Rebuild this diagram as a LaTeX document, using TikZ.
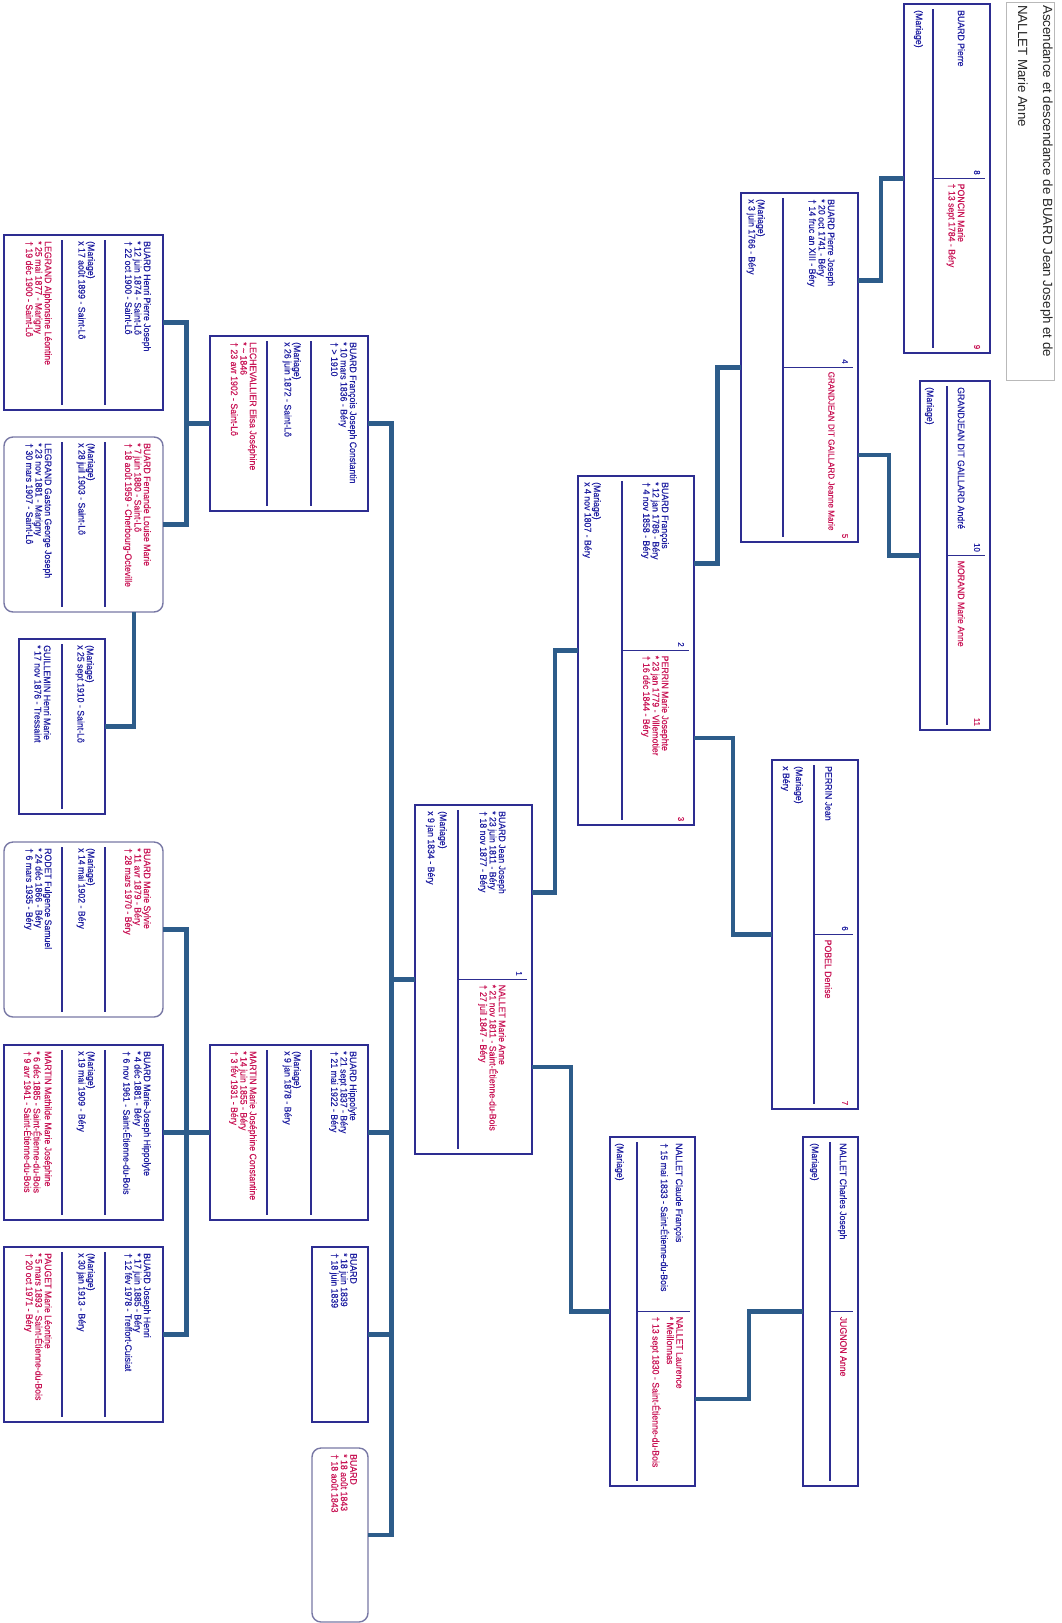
\documentclass[tikz,border=0pt]{standalone}
\usepackage{fontspec}
\setmainfont{Liberation Sans}
\newfontfamily\chartfont[FakeStretch=0.92, FakeBold=0.4]{Liberation Sans}
\usetikzlibrary{calc}

\definecolor{framecol}{RGB}{45,45,145}
\definecolor{roundcol}{RGB}{120,120,165}
\definecolor{malecol}{RGB}{30,30,160}
\definecolor{femcol}{RGB}{200,20,85}
\definecolor{linkcol}{RGB}{45,92,138}
\definecolor{titlecol}{RGB}{185,185,185}

\begin{document}
\begin{tikzpicture}[x=1pt, y=-1pt,
    sqbox/.style={rectangle, draw=framecol, line width=1.4pt, anchor=north west, inner sep=0pt, outer sep=0pt},
    ancbox/.style={sqbox, minimum height=349pt},
    descbox/.style={sqbox, minimum height=175pt},
    descrnd/.style={descbox, draw=roundcol, rounded corners=9pt},
    divline/.style={draw=framecol, line width=1.4pt},
    txt/.style={rotate=-90, anchor=north west, align=left, inner sep=0pt, font=\chartfont\fontsize{9.5}{9.4}\selectfont},
    he/.style={txt, text=malecol},
    she/.style={txt, text=femcol},
    num/.style={rotate=-90, inner sep=0pt, font=\chartfont\fontsize{8.5}{8.5}\selectfont},
    link/.style={draw=linkcol, line width=4.5pt}
]
    \useasboundingbox (0,0) rectangle (1061,1623);

    % title
    \node[draw=titlecol, line width=1pt, anchor=north west, inner sep=0pt, minimum width=48pt, minimum height=378pt] (title) at (1006,2) {};
    \node[txt, text=black!85, font=\fontsize{13.3}{25}\selectfont] (titletxt) at ($(title.north east)+(-2,3)$) {Ascendance et descendance de BUARD Jean Joseph et de\\NALLET Marie Anne};

    % ancestors
    \node[ancbox, minimum width=86pt] (A) at (904,4) {};
    \draw[divline] ($(A.north west)+(29,5)$) -- ($(A.south west)+(29,-5)$);
    \draw[divline] ($(A.west)+(29,0)$) -- ($(A.east)+(-5,0)$);
    \node[he] (Ah) at ($(A.north east)+(-25,6)$) {BUARD Pierre};
    \node[she] (Aw) at ($(A.east)+(-25,5)$) {PONCIN Marie\\† 13 sept 1784 - Béry};
    \node[he] (Am) at ($(A.north west)+(19,6)$) {(Mariage)};
    \node[num, text=malecol] (A8) at ($(A.east)+(-13,-6)$) {8};
    \node[num, text=femcol] (A9) at ($(A.south east)+(-13,-6)$) {9};

    \node[ancbox, minimum width=117pt] (B) at (741,193) {};
    \draw[divline] ($(B.north west)+(42,5)$) -- ($(B.south west)+(42,-5)$);
    \draw[divline] ($(B.west)+(42,0)$) -- ($(B.east)+(-5,0)$);
    \node[he] (Bhx) at ($(B.north east)+(-23,6)$) {BUARD Pierre Joseph\\* 20 oct 1741 - Béry\\† 14 fruc an XIII - Béry};
    \node[she, font=\chartfont\fontsize{8.8}{9.4}\selectfont] (Bwx) at ($(B.east)+(-23,4)$) {GRANDJEAN DIT GAILLARD Jeanne Marie};
    \node[he] (Bm) at ($(B.north west)+(24,6)$) {(Mariage)\\x 3 juin 1766 - Béry};
    \node[num, text=malecol] (B4) at ($(B.east)+(-13,-6)$) {4};
    \node[num, text=femcol] (B5) at ($(B.south east)+(-13,-6)$) {5};

    \node[ancbox, minimum width=70pt] (C) at (920,381) {};
    \draw[divline] ($(C.north west)+(27,5)$) -- ($(C.south west)+(27,-5)$);
    \draw[divline] ($(C.west)+(27,0)$) -- ($(C.east)+(-5,0)$);
    \node[he] (Ch) at ($(C.north east)+(-25,6)$) {GRANDJEAN DIT GAILLARD André};
    \node[she] (Cw) at ($(C.east)+(-25,5)$) {MORAND Marie Anne};
    \node[he] (Cm) at ($(C.north west)+(14,6)$) {(Mariage)};
    \node[num, text=malecol] (C10) at ($(C.east)+(-13,-8)$) {10};
    \node[num, text=femcol] (C11) at ($(C.south east)+(-13,-8)$) {11};

    \node[ancbox, minimum width=116pt] (D) at (578,476) {};
    \draw[divline] ($(D.north west)+(44,5)$) -- ($(D.south west)+(44,-5)$);
    \draw[divline] ($(D.west)+(44,0)$) -- ($(D.east)+(-5,0)$);
    \node[he] (Dhx) at ($(D.north east)+(-25,6)$) {BUARD François\\* 12 jan 1786 - Béry\\† 4 nov 1858 - Béry};
    \node[she] (Dwx) at ($(D.east)+(-25,5)$) {PERRIN Marie Josephte\\* 23 jan 1779 - Villemotier\\† 16 déc 1844 - Béry};
    \node[he] (Dm) at ($(D.north west)+(23,6)$) {(Mariage)\\x 4 nov 1807 - Béry};
    \node[num, text=malecol] (D2) at ($(D.east)+(-13,-6)$) {2};
    \node[num, text=femcol] (D3) at ($(D.south east)+(-13,-6)$) {3};

    \node[ancbox, minimum width=86pt] (E) at (772,760) {};
    \draw[divline] ($(E.north west)+(42,5)$) -- ($(E.south west)+(42,-5)$);
    \draw[divline] ($(E.west)+(42,0)$) -- ($(E.east)+(-5,0)$);
    \node[he] (Ehx) at ($(E.north east)+(-26,6)$) {PERRIN Jean};
    \node[she] (Ewx) at ($(E.east)+(-26,5)$) {POBEL Denise};
    \node[he, font=\chartfont\fontsize{9.5}{13}\selectfont] (Em) at ($(E.north west)+(31,6)$) {(Mariage)\\x Béry};
    \node[num, text=malecol] (E6) at ($(E.east)+(-13,-6)$) {6};
    \node[num, text=femcol] (E7) at ($(E.south east)+(-13,-6)$) {7};

    \node[ancbox, minimum width=117pt] (F) at (415,805) {};
    \draw[divline] ($(F.north west)+(43,5)$) -- ($(F.south west)+(43,-5)$);
    \draw[divline] ($(F.west)+(43,0)$) -- ($(F.east)+(-5,0)$);
    \node[he] (Fhx) at ($(F.north east)+(-26,6)$) {BUARD Jean Joseph\\* 23 juin 1811 - Béry\\† 18 nov 1877 - Béry};
    \node[she] (Fwx) at ($(F.east)+(-26,5)$) {NALLET Marie Anne\\* 21 nov 1811 - Saint-Étienne-du-Bois\\† 27 juil 1847 - Béry};
    \node[he, font=\chartfont\fontsize{9.5}{12}\selectfont] (Fm) at ($(F.north west)+(32,6)$) {(Mariage)\\x 9 jan 1834 - Béry};
    \node[num, text=malecol] (F1) at ($(F.east)+(-13,-6)$) {1};

    \node[ancbox, minimum width=85pt] (G) at (610,1137) {};
    \draw[divline] ($(G.north west)+(27,5)$) -- ($(G.south west)+(27,-5)$);
    \draw[divline] ($(G.west)+(27,0)$) -- ($(G.east)+(-5,0)$);
    \node[he, font=\chartfont\fontsize{9.5}{15}\selectfont] (Ghx) at ($(G.north east)+(-12,6)$) {NALLET Claude François\\† 15 mai 1833 - Saint-Étienne-du-Bois};
    \node[she] (Gwx) at ($(G.east)+(-12,5)$) {NALLET Laurence\\* Meillonnas\\[5pt]† 13 sept 1830 - Saint-Étienne-du-Bois};
    \node[he] (Gm) at ($(G.north west)+(14,6)$) {(Mariage)};

    \node[ancbox, minimum width=55pt] (H) at (803,1137) {};
    \draw[divline] ($(H.north west)+(27,5)$) -- ($(H.south west)+(27,-5)$);
    \draw[divline] ($(H.west)+(27,0)$) -- ($(H.east)+(-5,0)$);
    \node[he] (Hhx) at ($(H.north east)+(-11,6)$) {NALLET Charles Joseph};
    \node[she] (Hwx) at ($(H.east)+(-11,5)$) {JUGNON Anne};
    \node[he] (Hm) at ($(H.north west)+(16,6)$) {(Mariage)};

    % children
    \node[descbox, minimum width=158pt] (I) at (210,336) {};
    \draw[divline] ($(I.north west)+(101,5)$) -- ($(I.south west)+(101,-5)$);
    \draw[divline] ($(I.north west)+(57,5)$) -- ($(I.south west)+(57,-5)$);
    \node[he] (Ip) at ($(I.north east)+(-11,6)$) {BUARD François Joseph Constantin\\* 10 mars 1836 - Béry\\† > 1910};
    \node[he] (Im) at ($(I.north west)+(91,6)$) {(Mariage)\\x 26 juin 1872 - Saint-Lô};
    \node[she] (Is) at ($(I.north west)+(47,6)$) {LECHEVALLIER Elisa Joséphine\\* \textasciitilde{} 1846\\† 23 avr 1902 - Saint-Lô};

    \node[descbox, minimum width=158pt] (J) at (210,1045) {};
    \draw[divline] ($(J.north west)+(101,5)$) -- ($(J.south west)+(101,-5)$);
    \draw[divline] ($(J.north west)+(57,5)$) -- ($(J.south west)+(57,-5)$);
    \node[he] (Jp) at ($(J.north east)+(-11,6)$) {BUARD Hippolyte\\* 21 sept 1837 - Béry\\† 21 mai 1922 - Béry};
    \node[he] (Jm) at ($(J.north west)+(91,6)$) {(Mariage)\\x 9 jan 1878 - Béry};
    \node[she] (Js) at ($(J.north west)+(47,6)$) {MARTIN Marie Joséphine Constantine\\* 14 juin 1855 - Béry\\† 3 fév 1931 - Béry};

    \node[descbox, minimum width=56pt] (K) at (312,1247) {};
    \node[he] (Kp) at ($(K.north east)+(-11,6)$) {BUARD\\* 18 juin 1839\\† 18 juin 1839};

    \node[descrnd, minimum width=56pt, minimum height=174pt] (L) at (312,1448) {};
    \node[she] (Lp) at ($(L.north east)+(-11,6)$) {BUARD\\* 18 août 1843\\† 18 août 1843};

    % grandchildren
    \node[descbox, minimum width=159pt] (M) at (4,235) {};
    \draw[divline] ($(M.north west)+(101,5)$) -- ($(M.south west)+(101,-5)$);
    \draw[divline] ($(M.north west)+(58,5)$) -- ($(M.south west)+(58,-5)$);
    \node[he] (Mp) at ($(M.north east)+(-12,6)$) {BUARD Henri Pierre Joseph\\* 12 juin 1874 - Saint-Lô\\† 22 oct 1900 - Saint-Lô};
    \node[he] (Mm) at ($(M.north west)+(91,6)$) {(Mariage)\\x 17 août 1899 - Saint-Lô};
    \node[she] (Ms) at ($(M.north west)+(48,6)$) {LEGRAND Alphonsine Léontine\\* 25 mai 1877 - Marigny\\† 19 déc 1900 - Saint-Lô};

    \node[descrnd, minimum width=159pt] (N) at (4,437) {};
    \draw[divline] ($(N.north west)+(101,5)$) -- ($(N.south west)+(101,-5)$);
    \draw[divline] ($(N.north west)+(58,5)$) -- ($(N.south west)+(58,-5)$);
    \node[she] (Np) at ($(N.north east)+(-12,6)$) {BUARD Fernande Louise Marie\\* 7 juin 1880 - Saint-Lô\\† 18 août 1959 - Cherbourg-Octeville};
    \node[he] (Nm) at ($(N.north west)+(91,6)$) {(Mariage)\\x 28 juil 1903 - Saint-Lô};
    \node[he] (Ns) at ($(N.north west)+(48,6)$) {LEGRAND Gaston George Joseph\\* 23 nov 1881 - Marigny\\† 30 mars 1907 - Saint-Lô};

    \node[descbox, minimum width=86pt] (O) at (19,639) {};
    \draw[divline] ($(O.north west)+(43,5)$) -- ($(O.south west)+(43,-5)$);
    \node[he] (Om) at ($(O.north east)+(-11,6)$) {(Mariage)\\x 25 sept 1910 - Saint-Lô};
    \node[he] (Os) at ($(O.north west)+(32,6)$) {GUILLEMIN Henri Marie\\* 17 nov 1876 - Tressaint};

    \node[descrnd, minimum width=159pt] (P) at (4,842) {};
    \draw[divline] ($(P.north west)+(101,5)$) -- ($(P.south west)+(101,-5)$);
    \draw[divline] ($(P.north west)+(58,5)$) -- ($(P.south west)+(58,-5)$);
    \node[she] (Pp) at ($(P.north east)+(-12,6)$) {BUARD Marie Sylvie\\* 11 avr 1879 - Béry\\† 28 mars 1970 - Béry};
    \node[he] (Pm) at ($(P.north west)+(91,6)$) {(Mariage)\\x 14 mai 1902 - Béry};
    \node[he] (Ps) at ($(P.north west)+(48,6)$) {RODET Fulgence Samuel\\* 24 déc 1866 - Béry\\† 6 mars 1935 - Béry};

    \node[descbox, minimum width=159pt] (Q) at (4,1045) {};
    \draw[divline] ($(Q.north west)+(101,5)$) -- ($(Q.south west)+(101,-5)$);
    \draw[divline] ($(Q.north west)+(58,5)$) -- ($(Q.south west)+(58,-5)$);
    \node[he] (Qp) at ($(Q.north east)+(-12,6)$) {BUARD Marie-Joseph Hippolyte\\* 4 déc 1881 - Béry\\† 6 nov 1961 - Saint-Étienne-du-Bois};
    \node[he] (Qm) at ($(Q.north west)+(91,6)$) {(Mariage)\\x 19 mai 1909 - Béry};
    \node[she] (Qs) at ($(Q.north west)+(48,6)$) {MARTIN Mathilde Marie Joséphine\\* 6 déc 1885 - Saint-Étienne-du-Bois\\† 9 avr 1941 - Saint-Étienne-du-Bois};

    \node[descbox, minimum width=159pt] (R) at (4,1247) {};
    \draw[divline] ($(R.north west)+(101,5)$) -- ($(R.south west)+(101,-5)$);
    \draw[divline] ($(R.north west)+(58,5)$) -- ($(R.south west)+(58,-5)$);
    \node[he] (Rp) at ($(R.north east)+(-12,6)$) {BUARD Joseph Henri\\* 17 juin 1885 - Béry\\† 12 fév 1978 - Treffort-Cuisiat};
    \node[he] (Rm) at ($(R.north west)+(91,6)$) {(Mariage)\\x 30 jan 1913 - Béry};
    \node[she] (Rs) at ($(R.north west)+(48,6)$) {PAUGET Marie Léontine\\* 5 mars 1893 - Saint-Étienne-du-Bois\\† 20 oct 1971 - Béry};

    % ascendance links
    \coordinate (Bh) at ($(B.north east)!.25!(B.south east)$);
    \coordinate (Bw) at ($(B.north east)!.75!(B.south east)$);
    \coordinate (Dh) at ($(D.north east)!.25!(D.south east)$);
    \coordinate (Dw) at ($(D.north east)!.75!(D.south east)$);
    \coordinate (Fh) at ($(F.north east)!.25!(F.south east)$);
    \coordinate (Fw) at ($(F.north east)!.75!(F.south east)$);
    \coordinate (Gw) at ($(G.north east)!.75!(G.south east)$);
    \draw[link] (Bh) -| ($(Bh)!.5!(A.west)$) |- (A.west);
    \draw[link] (Bw) -| ($(Bw)!.5!(C.west)$) |- (C.west);
    \draw[link] (Dh) -| ($(Dh)!.5!(B.west)$) |- (B.west);
    \draw[link] (Dw) -| ($(Dw)!.5!(E.west)$) |- (E.west);
    \draw[link] (Fh) -| ($(Fh)!.5!(D.west)$) |- (D.west);
    \draw[link] (Fw) -| ($(Fw)!.5!(G.west)$) |- (G.west);
    \draw[link] (Gw) -| ($(Gw)!.5!(H.west)$) |- (H.west);

    % descendance links
    \draw[link] (F.west) -| ($(F.west)!.5!(I.east)$) |- (I.east);
    \draw[link] (F.west) -| ($(F.west)!.5!(J.east)$) |- (J.east);
    \draw[link] (F.west) -| ($(F.west)!.5!(K.east)$) |- (K.east);
    \draw[link] (F.west) -| ($(F.west)!.5!(L.east)$) |- (L.east);
    \draw[link] (I.west) -| ($(I.west)!.5!(M.east)$) |- (M.east);
    \draw[link] (I.west) -| ($(I.west)!.5!(N.east)$) |- (N.east);
    \coordinate (Nd) at ($(N.south east)+(-29,0)$);
    \draw[link] (Nd) |- (O.east);
    \draw[link] (J.west) -| ($(J.west)!.5!(P.east)$) |- (P.east);
    \draw[link] (J.west) -| ($(J.west)!.5!(Q.east)$) |- (Q.east);
    \draw[link] (J.west) -| ($(J.west)!.5!(R.east)$) |- (R.east);
\end{tikzpicture}
\end{document}
